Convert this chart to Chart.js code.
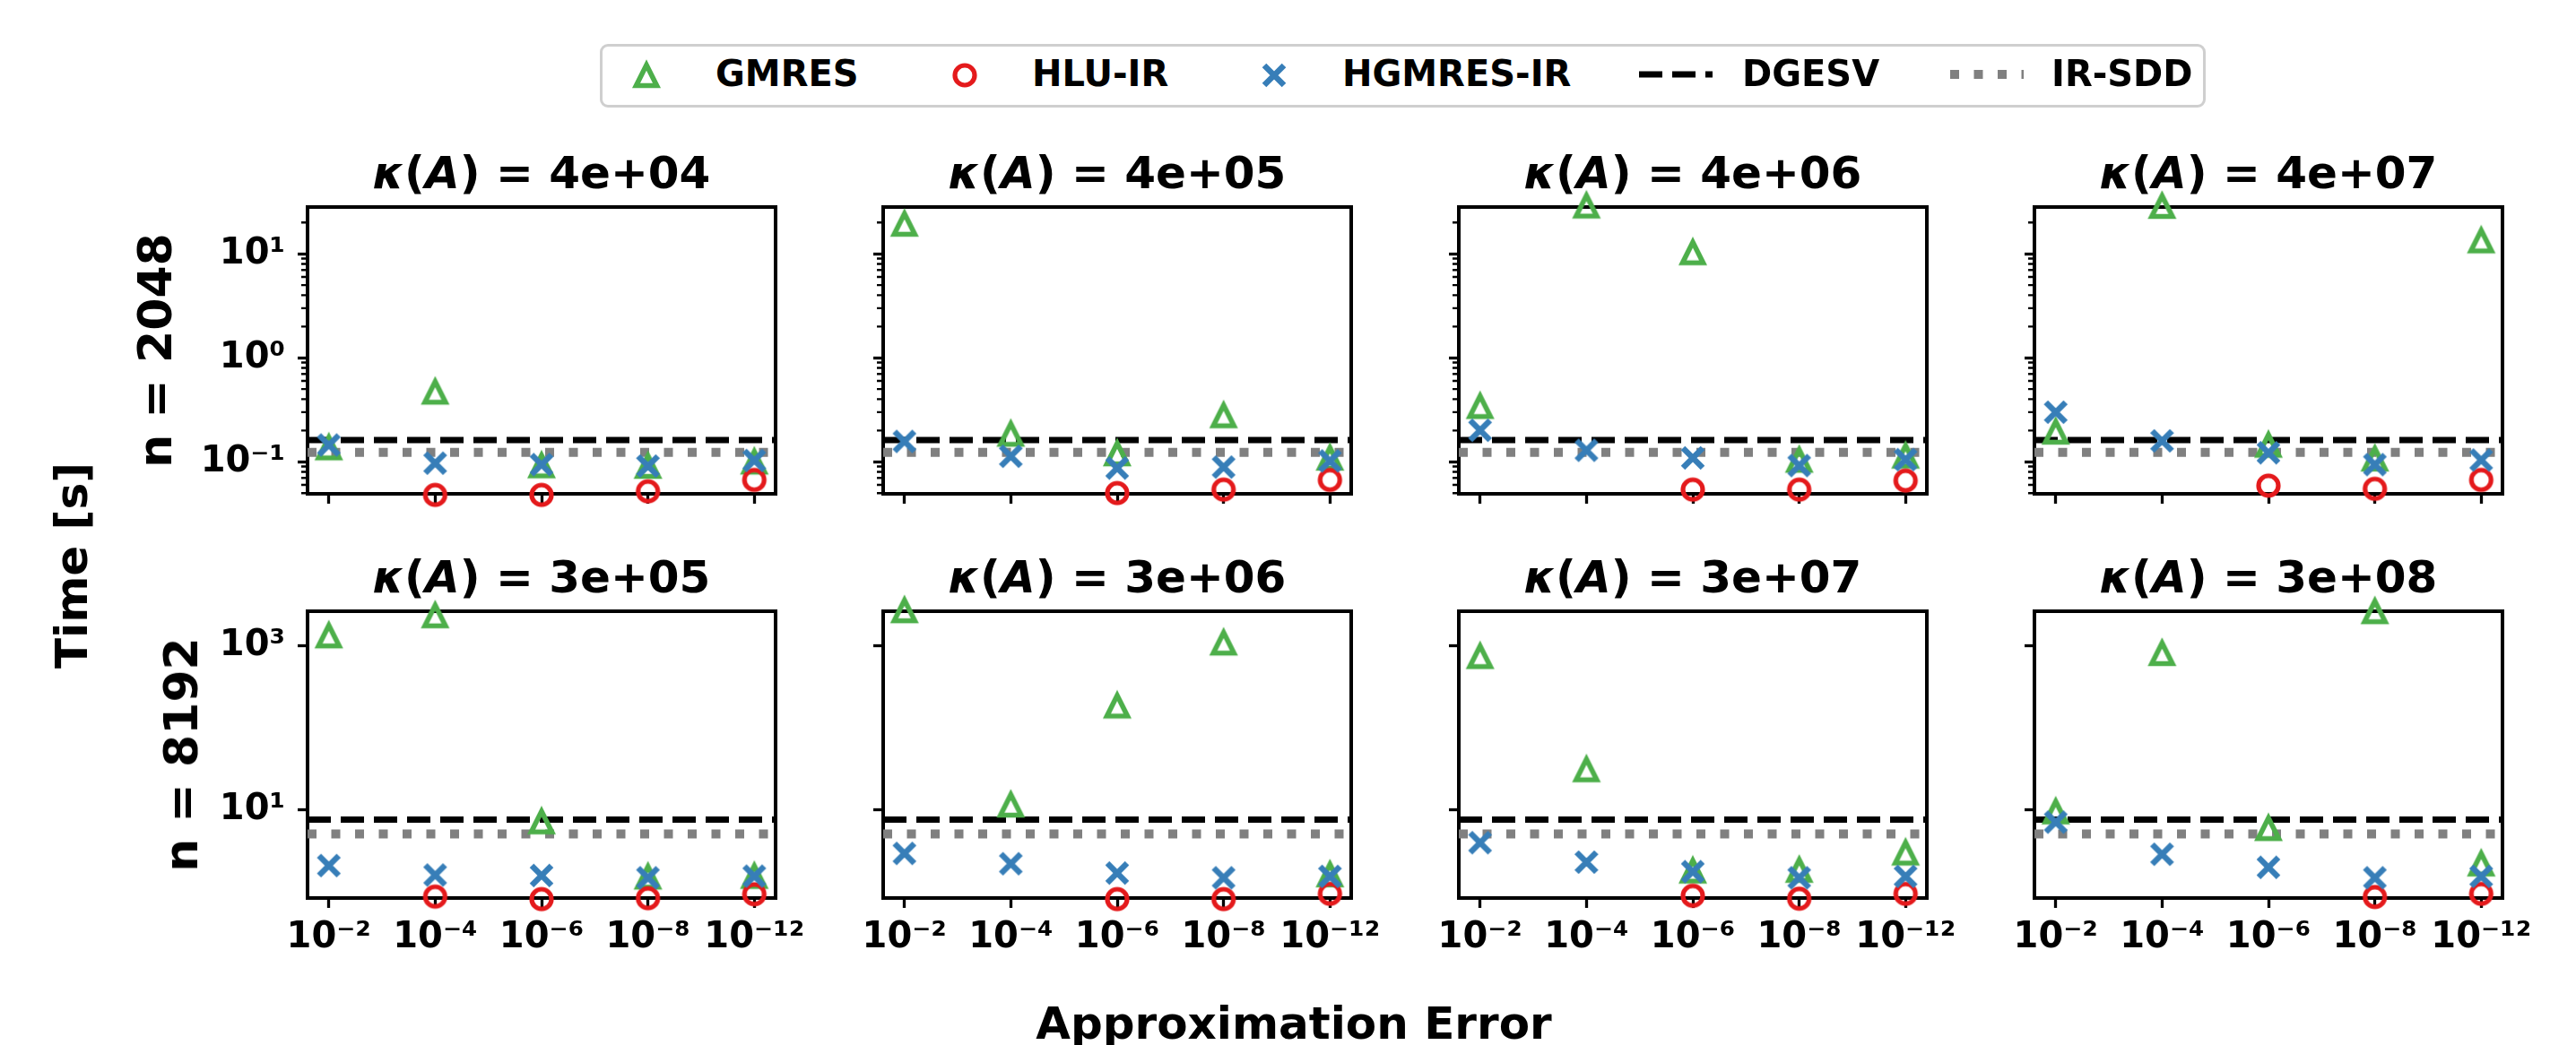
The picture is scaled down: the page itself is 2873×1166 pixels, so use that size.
<!DOCTYPE html>
<html>
<head>
<meta charset="utf-8">
<script src="https://cdn.jsdelivr.net/npm/chart.js@4.4.1/dist/chart.umd.min.js"></script>
<style>
  body { margin: 0; background: #fff; }
  #fig { position: relative; width: 2873px; height: 1166px; overflow: hidden;
         font-family: 'DejaVu Sans', sans-serif; font-weight: bold; color: #000; }
  #fig canvas { position: absolute; }
  .txt { position: absolute; white-space: nowrap; }
  #legendBox { position: absolute; left: 669px; top: 49px; width: 1785px; height: 65px;
               border: 3px solid #cfcfcf; border-radius: 9px; background: #fff; }
</style>
</head>
<body>
<div id="fig"><div id="legendBox"></div></div>
<script>
// x categories: approximation error of the preconditioner
const xLabels = ['10⁻²', '10⁻⁴', '10⁻⁶', '10⁻⁸', '10⁻¹²'];
const kappaTop = ['4e+04', '4e+05', '4e+06', '4e+07'];
const kappaBottom = ['3e+05', '3e+06', '3e+07', '3e+08'];
const sizes = ['2048', '8192'];

// time [s], one row per panel (left to right), null = no point
const gmres2048 = [
  [0.137, 0.47, 0.092, 0.091, 0.10],
  [19.4, 0.185, 0.12, 0.279, 0.109],
  [0.342, 29.0, 10.3, 0.104, 0.114],
  [0.194, 28.8, 0.145, 0.107, 13.4]
];
const hluir2048 = [
  [null, 0.048, 0.048, 0.052, 0.067],
  [null, null, 0.050, 0.054, 0.067],
  [null, null, 0.054, 0.054, 0.066],
  [null, null, 0.059, 0.055, 0.067]
];
const hgmresir2048 = [
  [0.145, 0.097, 0.094, 0.091, 0.103],
  [0.157, 0.113, 0.087, 0.089, 0.102],
  [0.201, 0.129, 0.109, 0.092, 0.105],
  [0.30, 0.159, 0.122, 0.094, 0.104]
];
const gmres8192 = [
  [1320, 2320, 7.2, 1.53, 1.56],
  [2670, 11.5, 185, 1080, 1.63],
  [740, 31, 1.81, 1.85, 3.0],
  [9.5, 805, 5.96, 2600, 2.21]
];
const hluir8192 = [
  [null, 0.88, 0.82, 0.84, 0.94],
  [null, null, 0.82, 0.82, 0.95],
  [null, null, 0.90, 0.83, 0.95],
  [null, null, null, 0.87, 0.95]
];
const hgmresir8192 = [
  [2.1, 1.61, 1.59, 1.49, 1.56],
  [2.95, 2.21, 1.70, 1.49, 1.55],
  [3.98, 2.31, 1.77, 1.49, 1.55],
  [7.08, 2.88, 2.0, 1.49, 1.55]
];
// reference solvers, one value per row (n = 2048, n = 8192)
const dgesvTime = [0.162, 7.6];
const irsddTime = [0.123, 5.1];

// log axis per row
const yRange2048 = [0.0492, 28.2];
const yRange8192 = [0.845, 2616];
const yMajor2048 = [0.1, 1, 10];
const yLabels2048 = ['10⁻¹', '10⁰', '10¹'];
const yMinor2048 = [0.05, 0.06, 0.07, 0.08, 0.09, 0.2, 0.3, 0.4, 0.5, 0.6, 0.7, 0.8, 0.9,
                    2, 3, 4, 5, 6, 7, 8, 9, 20];
const yMajor8192 = [10, 1000];
const yLabels8192 = ['10¹', '10³'];

const gmres = [gmres2048, gmres8192];
const hluir = [hluir2048, hluir8192];
const hgmresir = [hgmresir2048, hgmresir8192];
const yRange = [yRange2048, yRange8192];
const yMajor = [yMajor2048, yMajor8192];
const yLabels = [yLabels2048, yLabels8192];
const yMinor = [yMinor2048, []];

const GREEN = '#4daf4a', RED = '#e41a1c', BLUE = '#377eb8';

// panel geometry (figure pixels)
const panelLeft = [343, 985, 1627, 2269];
const panelTop = [231, 682];
const panelW = 522, panelH = 320;
const padL = 140, padR = 60, padT = 45;
const padB = [45, 90];

const fig = document.getElementById('fig');

function markerCanvas(kind, color) {
  const c = document.createElement('canvas');
  c.width = 44; c.height = 44;
  const g = c.getContext('2d');
  g.strokeStyle = color;
  g.beginPath();
  if (kind === 'triangle') {
    g.lineWidth = 5.6; g.lineJoin = 'miter';
    g.moveTo(22, 10.5); g.lineTo(33.5, 33.5); g.lineTo(10.5, 33.5); g.closePath();
  } else if (kind === 'circle') {
    g.lineWidth = 5.2;
    g.arc(22, 22, 11, 0, Math.PI * 2);
  } else {
    g.lineWidth = 6.5; g.lineCap = 'butt';
    g.moveTo(11, 11); g.lineTo(33, 33); g.moveTo(33, 11); g.lineTo(11, 33);
  }
  g.stroke();
  return c;
}

const triMarker = markerCanvas('triangle', GREEN);
const circMarker = markerCanvas('circle', RED);
const xMarker = markerCanvas('x', BLUE);

// spines + minor ticks, drawn under the data like matplotlib's unclipped markers
const framePlugin = {
  id: 'frame',
  beforeDatasetsDraw(chart, args, opts) {
    const { ctx, chartArea: a } = chart;
    const y = chart.scales.y;
    ctx.save();
    ctx.strokeStyle = '#000';
    ctx.lineWidth = 2.4;
    ctx.beginPath();
    (opts.minor || []).forEach(v => {
      const py = y.getPixelForValue(v);
      ctx.moveTo(a.left - 7, py);
      ctx.lineTo(a.left, py);
    });
    ctx.stroke();
    ctx.lineWidth = 4;
    ctx.strokeRect(a.left, a.top, a.right - a.left, a.bottom - a.top);
    ctx.restore();
  }
};

function pointSet(label, values, marker, order) {
  return {
    label,
    data: values.map((v, i) => (v == null ? null : { x: i, y: v })).filter(Boolean),
    pointStyle: marker,
    pointRadius: 16,
    showLine: false,
    clip: false,
    order
  };
}

function refLine(label, value, color, width, dash, order) {
  return {
    label,
    data: [{ x: -0.2, y: value }, { x: 4.2, y: value }],
    showLine: true,
    borderColor: color,
    borderWidth: width,
    borderDash: dash,
    pointRadius: 0,
    clip: false,
    order
  };
}

function makePanel(row, col) {
  const canvas = document.createElement('canvas');
  canvas.width = panelW + padL + padR;
  canvas.height = panelH + padT + padB[row];
  canvas.style.left = (panelLeft[col] - padL) + 'px';
  canvas.style.top = (panelTop[row] - padT) + 'px';
  fig.appendChild(canvas);

  const tickFont = { family: 'DejaVu Sans', size: 40, weight: 'bold' };

  new Chart(canvas, {
    type: 'scatter',
    data: {
      datasets: [
        pointSet('HGMRES-IR', hgmresir[row][col], xMarker, 1),
        pointSet('HLU-IR', hluir[row][col], circMarker, 2),
        pointSet('GMRES', gmres[row][col], triMarker, 3),
        refLine('DGESV', dgesvTime[row], '#000', 7, [26, 11], 4),
        refLine('IR-SDD', irsddTime[row], '#808080', 10, [10, 16.5], 5)
      ]
    },
    options: {
      responsive: false,
      animation: false,
      events: [],
      layout: { padding: { left: 0, right: padR, top: padT, bottom: 0 } },
      plugins: {
        legend: { display: false },
        tooltip: { enabled: false },
        frame: { minor: yMinor[row] }
      },
      scales: {
        x: {
          type: 'linear',
          min: -0.2,
          max: 4.2,
          afterBuildTicks: s => { s.ticks = xLabels.map((_, i) => ({ value: i })); },
          afterFit: s => { s.height = padB[row]; },
          ticks: {
            display: row === 1,
            autoSkip: false,
            maxRotation: 0,
            padding: 10,
            color: '#000',
            font: tickFont,
            callback: (v, i) => xLabels[i]
          },
          grid: { drawOnChartArea: false, drawTicks: true, tickLength: 11, tickWidth: 3.3, tickColor: '#000' },
          border: { display: false }
        },
        y: {
          type: 'logarithmic',
          min: yRange[row][0],
          max: yRange[row][1],
          afterBuildTicks: s => { s.ticks = yMajor[row].map(v => ({ value: v })); },
          afterFit: s => { s.width = padL; },
          ticks: {
            display: col === 0,
            autoSkip: false,
            padding: 14,
            color: '#000',
            font: tickFont,
            callback: (v, i) => yLabels[row][i]
          },
          grid: { drawOnChartArea: false, drawTicks: true, tickLength: 11, tickWidth: 3.3, tickColor: '#000' },
          border: { display: false }
        }
      }
    },
    plugins: [framePlugin]
  });
}

for (let r = 0; r < 2; r++) {
  for (let c = 0; c < 4; c++) makePanel(r, c);
}

// text helpers: position by baseline (DejaVu Sans metrics)
function addText(html, x, baseline, size, center) {
  const d = document.createElement('div');
  d.className = 'txt';
  d.innerHTML = html;
  d.style.fontSize = size + 'px';
  d.style.lineHeight = size + 'px';
  d.style.top = (baseline - 0.846 * size) + 'px';
  d.style.left = x + 'px';
  if (center) d.style.transform = 'translateX(-50%)';
  fig.appendChild(d);
}

function addVText(text, baselineX, cy, size) {
  const d = document.createElement('div');
  d.className = 'txt';
  d.textContent = text;
  d.style.fontSize = size + 'px';
  d.style.lineHeight = size + 'px';
  d.style.left = (baselineX - 0.346 * size) + 'px';
  d.style.top = cy + 'px';
  d.style.transform = 'translate(-50%, -50%) rotate(-90deg)';
  fig.appendChild(d);
}

// panel titles
kappaTop.forEach((k, c) => addText('<i>κ</i>(<i>A</i>) = ' + k, panelLeft[c] + panelW / 2, 210, 50, true));
kappaBottom.forEach((k, c) => addText('<i>κ</i>(<i>A</i>) = ' + k, panelLeft[c] + panelW / 2, 661, 50, true));

// row labels and figure labels
addVText('n = ' + sizes[0], 191, 391, 52);
addVText('n = ' + sizes[1], 220, 842, 52);
addVText('Time [s]', 97, 631, 50);
addText('Approximation Error', 1443, 1159, 50, true);

// legend
function placeCanvas(c, cx, cy) {
  c.style.left = (cx - c.width / 2) + 'px';
  c.style.top = (cy - c.height / 2) + 'px';
  fig.appendChild(c);
}

function lineHandle(color, width, dash) {
  const c = document.createElement('canvas');
  c.width = 82; c.height = 20;
  const g = c.getContext('2d');
  g.strokeStyle = color;
  g.lineWidth = width;
  g.setLineDash(dash);
  g.beginPath();
  g.moveTo(0, 10); g.lineTo(82, 10);
  g.stroke();
  return c;
}

const legendY = 84;
placeCanvas(markerCanvas('triangle', GREEN), 721, legendY);
placeCanvas(markerCanvas('circle', RED), 1076, legendY);
placeCanvas(markerCanvas('x', BLUE), 1421, legendY);
placeCanvas(lineHandle('#000', 7, [26, 11]), 1869, legendY - 1);
placeCanvas(lineHandle('#808080', 10, [10, 16.5]), 2216, legendY - 1);
addText('GMRES', 798, 96, 40, false);
addText('HLU-IR', 1151, 96, 40, false);
addText('HGMRES-IR', 1497, 96, 40, false);
addText('DGESV', 1943, 96, 40, false);
addText('IR-SDD', 2288, 96, 40, false);
</script>
</body>
</html>
